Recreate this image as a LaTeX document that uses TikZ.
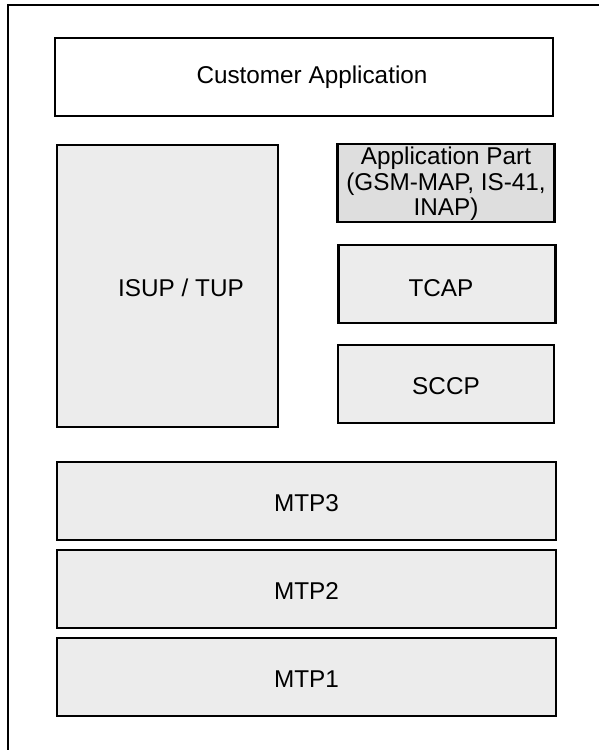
\documentclass[tikz,border=0pt]{standalone}
\usepackage{fontspec}
\setmainfont{Liberation Sans}
\begin{document}
\begin{tikzpicture}[x=1pt,y=-1pt,
  layer/.style={draw=black, line width=2.2pt, fill=boxgray, inner sep=0pt,
    font=\fontsize{24.3}{25.5}\selectfont, align=center},
  lbl/.style={inner sep=0pt, font=\fontsize{24.3}{25.5}\selectfont, align=center}]
\definecolor{boxgray}{HTML}{ECECEC}
\definecolor{appgray}{HTML}{DEDEDE}
\useasboundingbox (0,0) rectangle (599,750);
\fill[white] (0,0) rectangle (599,750);
% outer frame (cut by the page edges)
\draw[line width=2.2pt] (8,752) -- (8,5) -- (601,5);
% boxes
\node[layer, fill=white, minimum width=498pt, minimum height=78pt] (cust) at (304,77) {};
\node[lbl] (custl) at (312,77) {Customer Application};
\node[layer, minimum width=221pt, minimum height=282pt] (isup) at (167.5,286) {};
\node[lbl] (isupl) at (181,288) {ISUP / TUP};
\node[layer, fill=appgray, minimum width=217pt, minimum height=78pt] (app) at (446,183) {};
\node[lbl] (appl) at (446,184) {Application Part\\(GSM-MAP, IS-41,\\INAP)};
\node[layer, minimum width=217pt, minimum height=78pt] (tcap) at (447,284) {};
\node[lbl] (tcapl) at (441,288) {TCAP};
\node[layer, minimum width=216pt, minimum height=78pt] (sccp) at (446,384) {};
\node[lbl] (sccpl) at (446,386) {SCCP};
\node[layer, minimum width=499pt, minimum height=78pt] (mtp3) at (306.5,501) {};
\node[lbl] (mtp3l) at (306.5,503) {MTP3};
\node[layer, minimum width=499pt, minimum height=78pt] (mtp2) at (306.5,589) {};
\node[lbl] (mtp2l) at (306.5,591) {MTP2};
\node[layer, minimum width=499pt, minimum height=78pt] (mtp1) at (306.5,677) {};
\node[lbl] (mtp1l) at (306.5,679) {MTP1};
\end{tikzpicture}
\end{document}
